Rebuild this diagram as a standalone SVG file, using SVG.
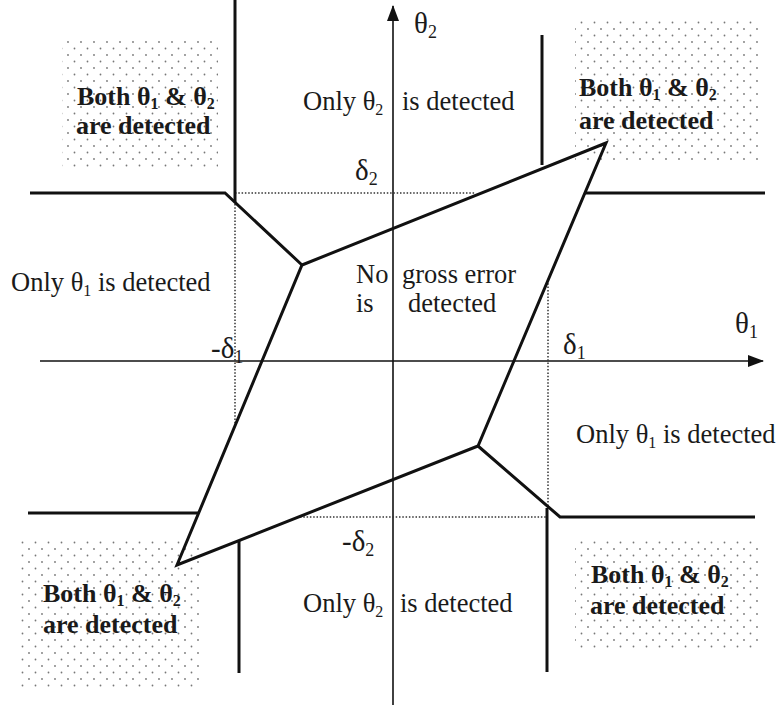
<svg xmlns="http://www.w3.org/2000/svg" width="784" height="705" viewBox="0 0 784 705">
<style>
.t{font-family:"Liberation Serif","Times New Roman",serif;font-size:26.5px;fill:#1a1a1a}
.b{font-family:"Liberation Serif","Times New Roman",serif;font-size:26px;font-weight:bold;fill:#1a1a1a}
.s{font-size:16px}
.g{font-size:29px}
.gs{font-size:18px}
.thick{stroke:#111;stroke-width:3;fill:none;stroke-linejoin:miter}
.axis{stroke:#111;stroke-width:1.6;fill:none}
.dot{stroke:#333;stroke-width:1.5;stroke-dasharray:1.5 1.8;fill:none}
.shade{fill:url(#dots)}
</style>
<defs>
<pattern id="dots" width="13" height="13" patternUnits="userSpaceOnUse">
<circle cx="3" cy="3" r="0.9" fill="#777"/>
<circle cx="9.5" cy="9.5" r="0.9" fill="#777"/>
</pattern>
<marker id="arr" markerWidth="16" markerHeight="12" refX="15" refY="6" orient="auto" markerUnits="userSpaceOnUse">
<path d="M0,0 L16,6 L0,12 Z" fill="#111"/>
</marker>
</defs>
<rect width="784" height="705" fill="#fff"/>
<g id="shading">
<rect class="shade" x="62" y="40" width="156" height="130"/>
<rect class="shade" x="575" y="20" width="187" height="142"/>
<rect class="shade" x="20" y="540" width="182" height="150"/>
<rect class="shade" x="575" y="540" width="185" height="110"/>
</g>
<g id="connectors">
<line class="axis" x1="40" y1="361" x2="763" y2="361" marker-end="url(#arr)"/>
<line class="axis" x1="393" y1="705" x2="393" y2="6" marker-end="url(#arr)"/>
<polyline class="dot" points="235,193 475,193"/>
<polyline class="dot" points="235,204 235,426"/>
<polyline class="dot" points="548,280 548,508"/>
<polyline class="dot" points="300,517 548,517"/>
<polygon class="thick" points="606,143 302,265 177,565 478,446"/>
<polyline class="thick" points="30,193 225,193 302,265"/>
<line class="thick" x1="235" y1="0" x2="235" y2="202"/>
<line class="thick" x1="542" y1="35" x2="542" y2="165"/>
<line class="thick" x1="584" y1="193" x2="765" y2="193"/>
<polyline class="thick" points="478,446 560,517 755,517"/>
<line class="thick" x1="547" y1="508" x2="547" y2="672"/>
<line class="thick" x1="28" y1="513" x2="199" y2="513"/>
<line class="thick" x1="239" y1="541" x2="239" y2="673"/>
</g>
<g id="region-both-tl">
<text class="b" x="77" y="105">Both θ<tspan class="s" dy="4">1</tspan><tspan dy="-4"> &amp; θ</tspan><tspan class="s" dy="4">2</tspan></text>
<text class="b" x="76" y="134">are detected</text>
</g>
<g id="region-both-tr">
<text class="b" x="579" y="96">Both θ<tspan class="s" dy="4">1</tspan><tspan dy="-4"> &amp; θ</tspan><tspan class="s" dy="4">2</tspan></text>
<text class="b" x="579" y="129">are detected</text>
</g>
<g id="region-both-bl">
<text class="b" x="43" y="602">Both θ<tspan class="s" dy="4">1</tspan><tspan dy="-4"> &amp; θ</tspan><tspan class="s" dy="4">2</tspan></text>
<text class="b" x="43" y="633">are detected</text>
</g>
<g id="region-both-br">
<text class="b" x="591" y="583">Both θ<tspan class="s" dy="4">1</tspan><tspan dy="-4"> &amp; θ</tspan><tspan class="s" dy="4">2</tspan></text>
<text class="b" x="590" y="614">are detected</text>
</g>
<g id="region-only2-top">
<text class="t" x="303" y="110">Only θ<tspan class="s" dy="5">2</tspan></text>
<text class="t" x="402" y="110">is detected</text>
</g>
<g id="region-only2-bottom">
<text class="t" x="303" y="612">Only θ<tspan class="s" dy="5">2</tspan></text>
<text class="t" x="400" y="612">is detected</text>
</g>
<g id="region-only1-left">
<text class="t" x="11" y="291">Only θ<tspan class="s" dy="5">1</tspan><tspan dy="-5"> is detected</tspan></text>
</g>
<g id="region-only1-right">
<text class="t" x="576" y="443">Only θ<tspan class="s" dy="5">1</tspan><tspan dy="-5"> is detected</tspan></text>
</g>
<g id="region-none">
<text class="t" x="356" y="283">No</text>
<text class="t" x="402" y="283">gross error</text>
<text class="t" x="356" y="312">is</text>
<text class="t" x="408" y="312">detected</text>
</g>
<g id="labels">
<text class="t g" x="355" y="180">δ<tspan class="gs" dy="5">2</tspan></text>
<text class="t g" x="211" y="358">-δ<tspan class="gs" dy="5">1</tspan></text>
<text class="t g" x="563" y="354">δ<tspan class="gs" dy="5">1</tspan></text>
<text class="t g" x="342" y="551">-δ<tspan class="gs" dy="5">2</tspan></text>
<text class="t g" x="735" y="333">θ<tspan class="gs" dy="5">1</tspan></text>
<text class="t g" x="414" y="33">θ<tspan class="gs" dy="5">2</tspan></text>
</g>
</svg>
